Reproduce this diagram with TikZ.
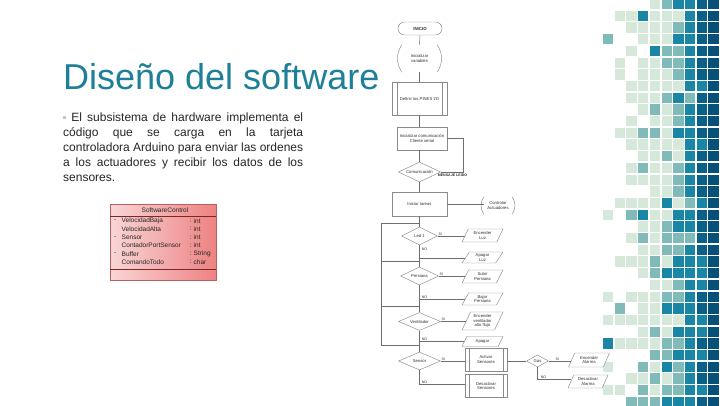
\documentclass[tikz,border=0pt]{standalone}
\usepackage{fontspec}
\setmainfont{Liberation Sans}
\usetikzlibrary{shapes.geometric,calc}
\definecolor{titlecol}{HTML}{1E7F99}
\definecolor{bodycol}{HTML}{262626}
\definecolor{bulletcol}{HTML}{C8C8C8}
\definecolor{mW}{HTML}{FFFFFF}
\definecolor{mM}{HTML}{D5E8DA}
\definecolor{mG}{HTML}{80BBBA}
\definecolor{mT}{HTML}{1A86A6}
\definecolor{mD}{HTML}{0B6088}
\definecolor{mE}{HTML}{075079}
\definecolor{clsL}{HTML}{F9D6D6}
\definecolor{clsR}{HTML}{EE8282}
\definecolor{clsB}{HTML}{B86060}
\definecolor{clsLine}{HTML}{7E2626}
\definecolor{flline}{HTML}{6E6E6E}
\definecolor{flbox}{HTML}{8A8A8A}
\definecolor{fltext}{HTML}{303030}
\newcommand{\mrow}[2]{\foreach \k [count=\c from 0] in {#2} {\fill[fill=m\k] (603+11.7*\c, 11.7*#1-1) rectangle ++(10.3,10.3);}}
\begin{document}
\begin{tikzpicture}[x=1pt,y=-1pt,
  ftxt/.style={font=\fontsize{4.2}{4.8}\selectfont, text=fltext, align=center, inner sep=0.5pt},
  conn/.style={draw=flline, line width=0.45pt},
  shp/.style={draw=flbox, line width=0.45pt},
  term/.style={ftxt, font=\fontsize{4.4}{5}\selectfont\bfseries, shp, rectangle, rounded corners=6.5pt, minimum width=44pt, minimum height=13pt},
  proc/.style={ftxt, shp, rectangle, fill=white},
  dec/.style={ftxt, shp, diamond, shape aspect=2.2, inner sep=0pt, fill=white},
  para/.style={ftxt, shp, trapezium, trapezium left angle=65, trapezium right angle=115, trapezium stretches=true, minimum width=41pt, fill=white},
  lbl/.style={font=\fontsize{3.6}{4}\selectfont, text=fltext, inner sep=0.6pt},
  clstxt/.style={font=\fontsize{6.5}{7}\selectfont, text=black!85, inner sep=0pt}
]
\useasboundingbox (0,0) rectangle (720,405);
\fill[white] (0,0) rectangle (720,405);

% ---------- mosaic ----------
\mrow{0}{W,W,W,W,M,G,T,T,D,E}
\mrow{1}{W,M,M,T,M,M,M,T,D,E}
\mrow{2}{W,W,M,M,M,M,G,T,D,E}
\mrow{3}{G,W,W,M,M,M,T,T,D,E}
\mrow{4}{W,W,M,W,T,G,G,T,D,E}
\mrow{5}{W,M,W,M,M,G,G,T,D,E}
\mrow{6}{W,M,W,M,M,M,G,T,D,E}
\mrow{7}{W,W,M,M,M,M,M,T,T,E}
\mrow{8}{W,W,M,M,M,G,T,G,D,E}
\mrow{9}{W,W,W,M,G,M,G,T,D,E}
\mrow{10}{W,W,M,W,M,M,G,T,D,E}
\mrow{11}{W,M,M,G,G,M,T,T,D,E}
\mrow{12}{W,W,M,M,M,M,M,T,T,E}
\mrow{13}{W,W,W,M,M,G,M,T,D,E}
\mrow{14}{W,W,M,G,M,M,G,T,D,E}
\mrow{15}{W,W,M,M,M,M,G,T,D,E}
\mrow{16}{W,W,W,W,M,M,G,T,D,E}
\mrow{17}{W,M,M,M,M,T,M,G,T,E}
\mrow{18}{M,W,G,T,M,M,T,T,D,E}
\mrow{19}{W,W,W,M,M,G,T,T,D,E}
\mrow{20}{W,W,M,G,M,G,G,G,D,E}
\mrow{21}{W,W,W,M,M,G,G,T,D,E}
\mrow{22}{W,M,M,M,G,M,T,T,T,E}
\mrow{23}{W,W,W,M,G,T,T,T,T,E}
\mrow{24}{W,W,W,W,M,M,G,T,T,E}
\mrow{25}{M,W,M,M,M,G,G,T,D,E}
\mrow{26}{W,G,W,M,M,T,T,T,D,E}
\mrow{27}{M,M,M,M,M,M,M,T,T,E}
\mrow{28}{W,W,W,M,G,M,T,T,T,E}
\mrow{29}{T,M,M,M,M,G,G,T,D,E}
\mrow{30}{W,W,W,W,G,G,T,T,T,E}
\mrow{31}{M,W,W,G,M,T,G,T,D,E}
\mrow{32}{W,W,M,M,G,M,G,T,D,E}
\mrow{33}{M,M,W,G,M,G,G,T,T,E}
\mrow{34}{W,W,G,G,G,T,T,T,D,E}

% ---------- title and text ----------
\node[anchor=base west, inner sep=0pt, font=\fontsize{36}{40}\selectfont, text=titlecol] (title) at (63,89) {Diseño del software};
\node[anchor=north west, inner sep=0pt, text width=240pt, align=justify, font=\fontsize{12}{15}\selectfont, text=bodycol] (body) at (63,113)
 {\hyphenpenalty=10000{\color{bulletcol}\rule[2.5pt]{3pt}{3pt}}\ El subsistema de hardware implementa el\linebreak
 código que se carga en la tarjeta\linebreak
 controladora Arduino para enviar las ordenes\linebreak
 a los actuadores y recibir los datos de los\linebreak
 sensores.};

% ---------- class box ----------
\node[draw=clsB, line width=0.5pt, left color=clsL, right color=clsR, minimum width=106pt, minimum height=76pt, inner sep=0pt] (cls) at (163,242) {};
\draw[clsLine, line width=0.8pt] (110,216) -- (216,216);
\draw[clsLine, line width=0.8pt] (110,269) -- (216,269);
\node[clstxt] (clsname) at (165,210) {SoftwareControl};
\foreach \y/\d/\n/\t [count=\i] in {221/-/VelocidadBaja/int, 229/{}/VelocidadAlta/int, 237.5/-/Sensor/int, 245.5/{}/ContadorPortSensor/int, 254/-/Buffer/String, 262/{}/ComandoTodo/char}{
  \node[clstxt, anchor=west] (d\i) at (114,\y) {\d};
  \node[clstxt, anchor=west] (n\i) at (121.5,\y) {\n};
  \node[clstxt, anchor=west] (c\i) at (189.5,\y) {:};
  \node[clstxt, anchor=west] (t\i) at (193.5,\y) {\t};
}

% ---------- flowchart ----------
\node[term] (inicio) at (420,28.5) {INICIO};
\node[ftxt, minimum width=35pt, minimum height=27pt] (vars) at (419.5,58.5) {Inicializar\\variables};
\draw[shp] (vars.north west) to[bend right=33] (vars.south west);
\draw[shp] (vars.north east) to[bend left=33] (vars.south east);
\node[proc, minimum width=55pt, minimum height=33pt] (pines) at (419.5,98.5) {Definir los PINES I/O};
\draw[shp] ([xshift=5pt]pines.north west) -- ([xshift=5pt]pines.south west);
\draw[shp] ([xshift=-5pt]pines.north east) -- ([xshift=-5pt]pines.south east);
\node[proc, minimum width=50pt, minimum height=23pt] (serial) at (422,138.5) {Inicializar comunicación\\Cliente serial};
\node[dec, minimum width=42pt, minimum height=20pt] (comm) at (419.5,172) {Comunicación};
\node[lbl, anchor=north west, font=\fontsize{3.6}{4}\selectfont\bfseries] (msg) at (437,173.5) {MENSAJE LEIDO};
\node[proc, minimum width=55pt, minimum height=24pt] (tarea) at (419.5,204) {Iniciar tareas};
\node[ftxt, minimum width=28pt, minimum height=17pt] (act) at (498,205.5) {Controlar\\Actuadores};
\draw[shp] (act.north west) to[bend right=33] (act.south west);
\draw[shp] (act.north east) to[bend left=33] (act.south east);

\node[dec, minimum width=36pt, minimum height=18pt] (led) at (419.5,236) {Led 1};
\node[para, minimum height=13pt] (encluz) at (482.5,235.5) {Encender\\Luz};
\node[para, minimum height=11pt] (apagluz) at (482.5,257.5) {Apagar\\Luz};
\node[dec, minimum width=38pt, minimum height=18pt] (pers) at (419.5,276) {Persiana};
\node[para, minimum height=13pt] (subir) at (482.5,276.5) {Subir\\Persiana};
\node[para, minimum height=12pt] (bajar) at (482.5,299) {Bajar\\Persiana};
\node[dec, minimum width=42pt, minimum height=18pt] (vent) at (419.5,321.5) {Ventilador};
\node[para, minimum height=18pt] (encvent) at (482.5,321) {Encender\\ventilador\\alto flujo};
\node[para, minimum height=10pt] (apagvent) at (482.5,341.5) {Apagar};
\node[dec, minimum width=42pt, minimum height=18pt] (sensor) at (419.5,361) {Sensor};
\node[proc, minimum width=42pt, minimum height=23pt] (activ) at (486,359.5) {Activar\\Sensores};
\draw[shp] ([xshift=4pt]activ.north west) -- ([xshift=4pt]activ.south west);
\draw[shp] ([xshift=-4pt]activ.north east) -- ([xshift=-4pt]activ.south east);
\node[proc, minimum width=42pt, minimum height=23pt] (desact) at (486,386) {Desactivar\\Sensores};
\draw[shp] ([xshift=4pt]desact.north west) -- ([xshift=4pt]desact.south west);
\draw[shp] ([xshift=-4pt]desact.north east) -- ([xshift=-4pt]desact.south east);
\node[dec, minimum width=22pt, minimum height=12pt] (gas) at (537.5,361) {Gas};
\node[para, minimum height=14pt] (encal) at (589,360) {Encender\\Alarma};
\node[para, minimum height=13pt, minimum width=40pt] (desal) at (588,381.5) {Desactivar\\Alarma};

% junctions
\coordinate (j1) at (419.5,223);
\coordinate (j2) at (419.5,261);
\coordinate (j3) at (419.5,306);
\coordinate (j4) at (419.5,345);
\coordinate (L1) at (381,223);
\coordinate (L2) at (381,261);
\coordinate (L3) at (381,306);
\coordinate (L4) at (381,345);
\coordinate (b1) at (419.5,258);
\coordinate (b2) at (419.5,299);
\coordinate (b3) at (419.5,341.5);
\coordinate (b4) at (419.5,384);
\coordinate (g1) at (537.5,379);

% connectors
\draw[conn] (inicio.south) -- (vars.north);
\draw[conn] (vars.south) -- (pines.north);
\draw[conn] (pines.south) -- (pines.south |- serial.north);
\draw[conn] (serial.south -| comm.north) -- (comm.north);
\draw[conn] (comm.east) -- ++(22,0) |- (serial.east);
\draw[conn] (comm.south) -- (tarea.north);
\draw[conn] (tarea.east) -- (tarea.east -| act.west);
\draw[conn] (tarea.south) -- (led.north);
\draw[conn] (j1) -- (L1) -- (L4) -- (j4);
\draw[conn] (L2) -- (j2);
\draw[conn] (L3) -- (j3);
\draw[conn] (led.east) -- (led.east -| encluz.west);
\draw[conn] (led.south) -- (pers.north);
\draw[conn] (b1) -- (b1 -| apagluz.west);
\draw[conn] (pers.east) -- (pers.east -| subir.west);
\draw[conn] (pers.south) -- (vent.north);
\draw[conn] (b2) -- (b2 -| bajar.west);
\draw[conn] (vent.east) -- (vent.east -| encvent.west);
\draw[conn] (vent.south) -- (sensor.north);
\draw[conn] (b3) -- (b3 -| apagvent.west);
\draw[conn] (sensor.east) -- (sensor.east -| activ.west);
\draw[conn] (sensor.south) -- (b4) -- (b4 -| desact.west);
\draw[conn] (activ.east |- gas.west) -- (gas.west);
\draw[conn] (gas.east) -- (gas.east -| encal.west);
\draw[conn] (gas.south) -- (g1) -- (g1 -| desal.west);

% branch labels
\node[lbl, anchor=south west] (si1) at (led.east) {SI};
\node[lbl, anchor=west] (no1) at (421,249) {NO};
\node[lbl, anchor=south west] (si2) at (pers.east) {SI};
\node[lbl, anchor=south west] (no2) at (421,299) {NO};
\node[lbl, anchor=south west] (si3) at (vent.east) {SI};
\node[lbl, anchor=south west] (no3) at (421,341.5) {NO};
\node[lbl, anchor=south west] (si4) at (sensor.east) {SI};
\node[lbl, anchor=south west] (no4) at (421,384) {NO};
\node[lbl, anchor=south west] (si5) at ([xshift=6pt]gas.east) {SI};
\node[lbl, anchor=south west] (no5) at (540,379) {NO};
\end{tikzpicture}
\end{document}
